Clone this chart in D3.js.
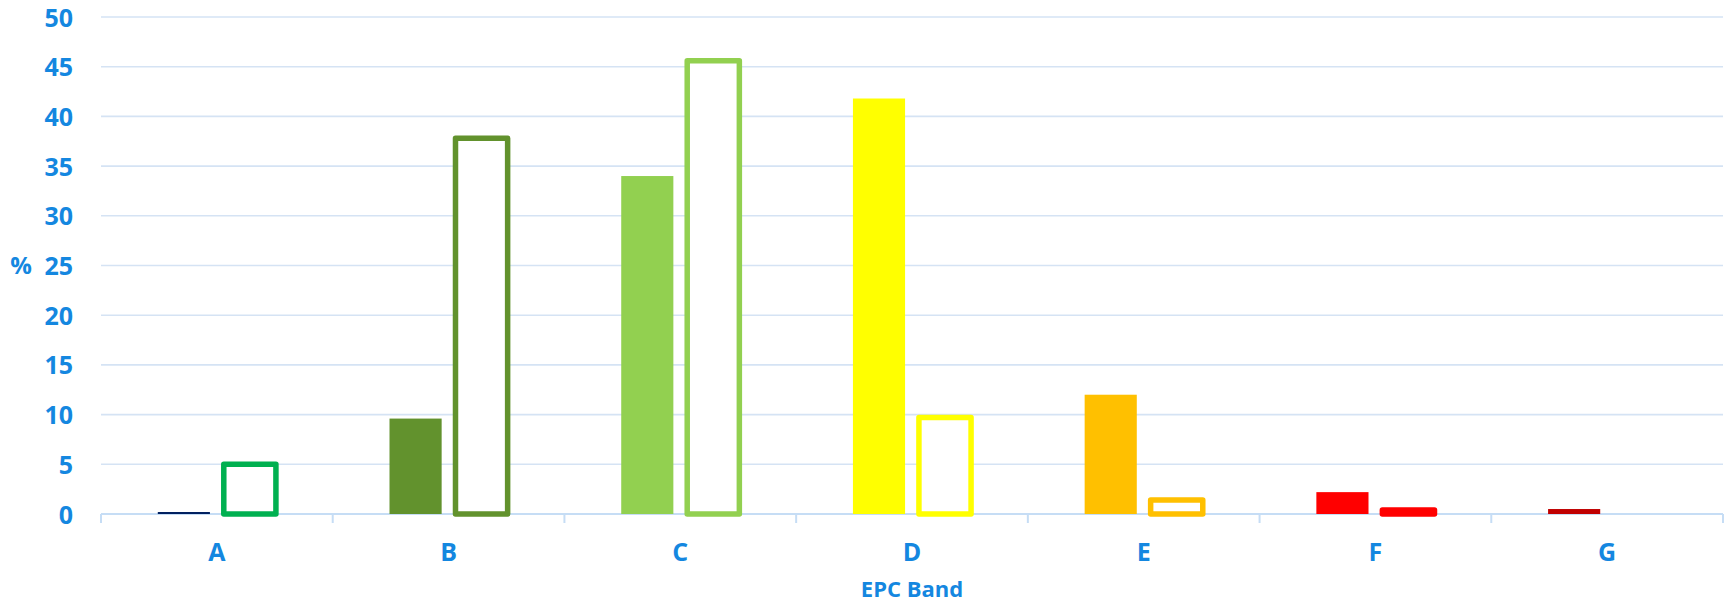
<!DOCTYPE html>
<html>
<head>
<meta charset="utf-8">
<script src="https://cdn.jsdelivr.net/npm/d3@7"></script>
<style>
  html, body { margin: 0; padding: 0; background: #ffffff; }
  svg { display: block; }
  text { font-family: "Open Sans", "Noto Sans", sans-serif; font-weight: 700; fill: #1487E0; }
</style>
</head>
<body>
<svg id="chart" width="1730" height="605"></svg>
<script>
// EPC band distribution (%), two series per band
const bands = ["A", "B", "C", "D", "E", "F", "G"];
const solidValues = [0.2, 9.6, 34.0, 41.8, 12.0, 2.2, 0.5];
const outlineValues = [5.0, 37.8, 45.6, 9.7, 1.4, 0.4, 0];
const bandColors = ["#002060", "#62922D", "#92D050", "#FFFF00", "#FFC000", "#FF0000", "#C00000"];
const outlineColors = ["#00B050", "#62922D", "#92D050", "#FFFF00", "#FFC000", "#FF0000", "#C00000"];
const yTicks = [0, 5, 10, 15, 20, 25, 30, 35, 40, 45, 50];

const W = 1730, H = 605;
const margin = { left: 101, right: 7, top: 17, bottom: 91 };
const innerW = W - margin.left - margin.right;
const innerH = H - margin.top - margin.bottom;

const svg = d3.select("#chart");
const g = svg.append("g").attr("transform", `translate(${margin.left},${margin.top})`);

const x = d3.scaleBand().domain(bands).range([0, innerW]).padding(0);
const y = d3.scaleLinear().domain([0, 50]).range([innerH, 0]);

const barW = x.bandwidth() * 0.225;
const offset = x.bandwidth() * 0.1424;

// horizontal gridlines
g.append("g")
  .selectAll("line")
  .data(yTicks.filter(d => d > 0))
  .join("line")
  .attr("x1", 0).attr("x2", innerW)
  .attr("y1", d => y(d)).attr("y2", d => y(d))
  .attr("stroke", "#D5E3F4").attr("stroke-width", 1.6);

// y axis labels
const yAxis = d3.axisLeft(y).tickValues(yTicks).tickSize(0).tickPadding(28);
const yg = g.append("g").call(yAxis);
yg.select(".domain").remove();
yg.selectAll("text")
  .attr("font-size", 25)
  .attr("dy", "0.36em")
  .style("fill", "#1487E0")
  .style("font-family", "'Open Sans', sans-serif")
  .style("font-weight", 700);

// x axis with category separators
const xAxisG = g.append("g").attr("transform", `translate(0,${innerH})`);
xAxisG.append("line")
  .attr("x1", 0).attr("x2", innerW)
  .attr("y1", 0).attr("y2", 0)
  .attr("stroke", "#C6DDF5").attr("stroke-width", 2);
const sepPositions = bands.map(b => x(b)).concat([innerW]);
xAxisG.selectAll("line.sep")
  .data(sepPositions)
  .join("line")
  .attr("class", "sep")
  .attr("x1", d => d).attr("x2", d => d)
  .attr("y1", 0).attr("y2", 9)
  .attr("stroke", "#C6DDF5").attr("stroke-width", 2);
xAxisG.selectAll("text.cat")
  .data(bands)
  .join("text")
  .attr("class", "cat")
  .attr("x", d => x(d) + x.bandwidth() / 2)
  .attr("y", 47)
  .attr("text-anchor", "middle")
  .attr("font-size", 25)
  .text(d => d);

// solid bars
g.append("g")
  .selectAll("rect")
  .data(bands)
  .join("rect")
  .attr("x", (d) => x(d) + x.bandwidth() / 2 - offset - barW / 2)
  .attr("width", barW)
  .attr("y", (d, i) => y(solidValues[i]))
  .attr("height", (d, i) => innerH - y(solidValues[i]))
  .attr("fill", (d, i) => bandColors[i]);

// outlined bars
g.append("g")
  .selectAll("rect")
  .data(bands.filter((d, i) => outlineValues[i] > 0))
  .join("rect")
  .attr("x", d => x(d) + x.bandwidth() / 2 + offset - barW / 2)
  .attr("width", barW)
  .attr("y", d => y(outlineValues[bands.indexOf(d)]))
  .attr("height", d => innerH - y(outlineValues[bands.indexOf(d)]))
  .attr("fill", "#ffffff")
  .attr("stroke", d => outlineColors[bands.indexOf(d)])
  .attr("stroke-width", 5.5)
  .attr("stroke-linejoin", "round");

// axis titles
svg.append("text")
  .attr("x", margin.left + innerW / 2)
  .attr("y", 597)
  .attr("text-anchor", "middle")
  .attr("font-size", 22)
  .text("EPC Band");

svg.append("text")
  .attr("x", 21)
  .attr("y", margin.top + innerH / 2)
  .attr("dy", "0.36em")
  .attr("text-anchor", "middle")
  .attr("font-size", 24)
  .text("%");
</script>
</body>
</html>
